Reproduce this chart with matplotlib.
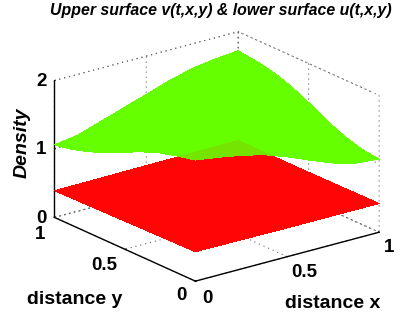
import matplotlib
matplotlib.use("Agg")
import matplotlib.pyplot as plt
import numpy as np
from mpl_toolkits.mplot3d import proj3d

plt.rcParams["font.family"] = ["Liberation Sans", "DejaVu Sans"]

# grid positions of the height tables
upper_pos = [0, 0.125, 0.25, 0.375, 0.5, 0.625, 0.75, 0.875, 1]
lower_pos = [0, 0.5, 1]
tick_vals = [0, 0.5, 1]
tick_labels = ["0", "0.5", "1"]
z_ticks = [0, 1, 2]
z_labels = ["0", "1", "2"]

# rows are y, columns are x
upper_z = [
    [1.77, 1.72, 1.66, 1.58, 1.46, 1.32, 1.19, 1.10, 1.07],
    [1.71, 1.76, 1.70, 1.64, 1.54, 1.43, 1.30, 1.19, 1.10],
    [1.64, 1.70, 1.76, 1.70, 1.64, 1.54, 1.43, 1.30, 1.18],
    [1.54, 1.64, 1.70, 1.76, 1.70, 1.64, 1.54, 1.43, 1.29],
    [1.42, 1.54, 1.64, 1.70, 1.76, 1.70, 1.64, 1.54, 1.43],
    [1.30, 1.43, 1.54, 1.64, 1.70, 1.76, 1.70, 1.64, 1.55],
    [1.19, 1.30, 1.43, 1.54, 1.64, 1.70, 1.75, 1.70, 1.64],
    [1.11, 1.19, 1.30, 1.43, 1.54, 1.64, 1.70, 1.74, 1.69],
    [1.06, 1.11, 1.22, 1.33, 1.44, 1.55, 1.64, 1.69, 1.72],
]
lower_z = [
    [0.43, 0.42, 0.42],
    [0.41, 0.41, 0.41],
    [0.39, 0.40, 0.41],
]

GREEN = "#66ff00"
RED = "#ff0505"
DOTS = (0, (1, 3.5))

fig = plt.figure(figsize=(4.2, 3.15), dpi=100)
ax = fig.add_axes([0.006, -0.01, 1.0, 1.0], projection="3d", computed_zorder=False)
ax.set_proj_type("ortho")
ax.view_init(elev=20.3, azim=-127.5)
ax.set_box_aspect((1, 1, 0.63), zoom=1.105)
ax.set_xlim(0, 1, view_margin=0)
ax.set_ylim(0, 1, view_margin=0)
ax.set_zlim(0, 2, view_margin=0)

for axis in (ax.xaxis, ax.yaxis, ax.zaxis):
    axis.pane.set_visible(False)
    axis._axinfo["grid"].update(color="#666666", linewidth=0.8, linestyle=DOTS)
    axis._axinfo["tick"].update(inward_factor=0.0, outward_factor=0.06)
    axis.line.set_color("black")
    axis.line.set_linewidth(1.0)
    axis.label.set_visible(False)
    axis.offsetText.set_visible(False)

# ticks come from the axes, their labels are placed by hand below
ax.set_xticks(tick_vals)
ax.set_yticks(tick_vals)
ax.set_zticks(z_ticks)
ax.tick_params(label1On=False)


def tick_text(x, y, z, label):
    # plain 2D text at the projected point of a 3D position
    px, py, _ = proj3d.proj_transform(x, y, z, ax.get_proj())
    ax.text2D(px, py, label, transform=ax.transData, fontsize=13.5, fontweight="bold",
              ha="center", va="center", clip_on=False)


for v, t, dy, dz in zip(tick_vals, tick_labels, [-0.085, -0.123, -0.07], [-0.17, -0.115, -0.158]):
    tick_text(v, dy, dz, t)
for v, t, dx, dz in zip(tick_vals, tick_labels, [-0.076, -0.113, -0.076], [-0.155, -0.15, -0.198]):
    tick_text(dx, v, dz, t)
for v, t in zip(z_ticks, z_labels):
    tick_text(-0.07, 1, v + 0.04, t)

# dotted edges of the box behind the surfaces
edge = dict(color="#666666", lw=0.8, ls=DOTS, zorder=1)
ax.plot([0, 1], [1, 1], [2, 2], **edge)
ax.plot([1, 1], [0, 1], [2, 2], **edge)
ax.plot([1, 1], [1, 1], [0, 2], **edge)
ax.plot([1, 1], [0, 0], [0, 2], **edge)
ax.plot([0, 1], [1, 1], [0, 0], **edge)
ax.plot([1, 1], [0, 1], [0, 0], **edge)

ux, uy = np.meshgrid(upper_pos, upper_pos)
lx, ly = np.meshgrid(lower_pos, lower_pos)
uz = np.array(upper_z)
lz = np.array(lower_z)

surfs = [
    ax.plot_surface(lx, ly, lz, color=RED, shade=False, linewidth=0, antialiased=False, zorder=2),
    ax.plot_surface(ux, uy, uz, color=GREEN, shade=False, linewidth=0, antialiased=False, zorder=3),
    # red plane shows faintly through the upper surface
    ax.plot_surface(lx, ly, lz, color=RED, alpha=0.1, shade=False, linewidth=0, antialiased=False, zorder=4),
]
for s in surfs:
    s.set_clip_on(False)

fig.text(0.526, 0.966, "Upper surface v(t,x,y) & lower surface u(t,x,y)", fontsize=11.4,
         fontweight="bold", fontstyle="italic", ha="center", va="center")
fig.text(0.179, 0.05, "distance y", fontsize=14, fontweight="bold", ha="center", va="center")
fig.text(0.793, 0.037, "distance x", fontsize=14, fontweight="bold", ha="center", va="center")
fig.text(0.052, 0.548, "Density", fontsize=14, fontweight="bold", fontstyle="italic",
         rotation=90, ha="center", va="center")

fig.savefig("out.png", dpi=100)
